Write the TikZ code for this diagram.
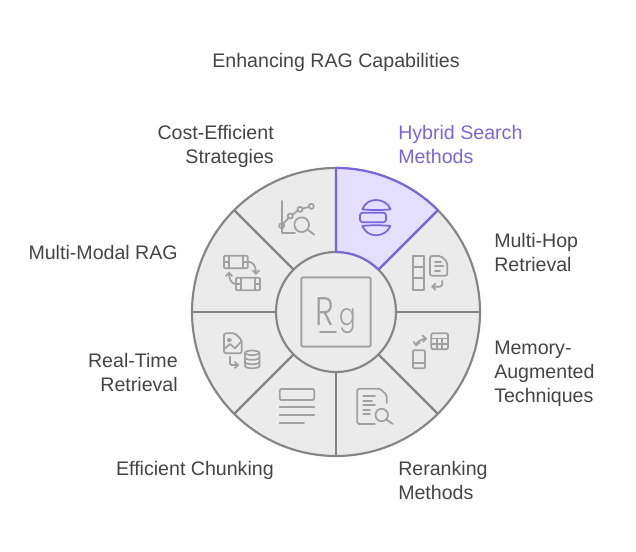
\documentclass[tikz,border=0pt]{standalone}
\usepackage{fontspec}
\setmainfont{Liberation Sans}
\newfontfamily\logofont[FakeStretch=0.8]{Poppins Light}
\usetikzlibrary{arrows.meta}
\definecolor{wheelfill}{HTML}{EBEBEB}
\definecolor{wheelline}{HTML}{858585}
\definecolor{iconline}{HTML}{A0A0A0}
\definecolor{accent}{HTML}{7A66DC}
\definecolor{accentfill}{HTML}{E4DEFF}
\definecolor{labeltext}{HTML}{444444}
\tikzset{
  x=0.75pt,y=-0.75pt,
  wheel/.style={draw=wheelline,line width=1.6pt,fill=wheelfill},
  spoke/.style={draw=wheelline,line width=1.6pt},
  icon/.style={draw=iconline,line width=1.3pt,line cap=round,line join=round},
  hicon/.style={draw=accent,line width=1.3pt,line cap=round,line join=round},
  lab/.style={inner sep=0pt,text=labeltext,font=\fontsize{14.7}{18}\selectfont},
  hlab/.style={lab,text=accent},
  tip/.style={-{Straight Barb[length=2.6pt,width=5pt]}}
}
\begin{document}
\begin{tikzpicture}
\useasboundingbox (0,0) rectangle (636,552);
% wheel
\draw[wheel] (336,312) circle[radius=108pt];
\draw[spoke] (336,168) -- (336,456);
\draw[spoke] (192,312) -- (480,312);
\draw[spoke] (234.18,210.18) -- (437.82,413.82);
\draw[spoke] (234.18,413.82) -- (437.82,210.18);
\draw[wheel] (336,312) circle[radius=45pt];
% highlighted wedge
\draw[draw=accent,line width=1.6pt,fill=accentfill,line join=round]
  (336,252) -- (336,168) arc[start angle=90,end angle=45,radius=108pt]
  -- (378.43,269.57) arc[start angle=45,end angle=90,radius=45pt] -- cycle;
% centre logo
\draw[icon,line width=1.5pt,rounded corners=1.5pt] (301.3,277.3) rectangle (370.7,346.7);
\node[inner sep=0pt,anchor=base west,text=iconline,font=\logofont\fontsize{30}{30}\selectfont] (logoR) at (315,326) {R};
\node[inner sep=0pt,anchor=base west,text=iconline,font=\logofont\fontsize{23}{30}\selectfont] (logoG) at (339.5,326) {g};
\draw[icon] (320,332.3) -- (336,332.3);
% cost-efficient icon
\draw[icon] (281.7,201) -- (281.7,232.7) -- (295,232.7);
\draw[icon] (283.3,223.6) -- (288.8,217.7) (292.4,214.8) -- (297.9,210.5) (302.4,208.6) -- (309,207);
\draw[icon] (281.7,225.7) circle[radius=1.9pt] (290.3,216) circle[radius=1.9pt] (300,209.3) circle[radius=1.9pt] (311.3,206.3) circle[radius=1.9pt];
\draw[icon] (301.7,224.7) circle[radius=5.5pt];
\draw[icon] (308,230) -- (314.3,234.7);
% multi-modal icon
\draw[icon,rounded corners=0.8pt] (224,255.7) rectangle (247.7,268.3);
\draw[icon] (229,255.7) -- (229,268.3) (242.7,255.7) -- (242.7,268.3) (224,262) -- (229,262) (242.7,262) -- (247.7,262);
\draw[icon,rounded corners=0.8pt] (236,277.7) rectangle (260,290.3);
\draw[icon] (241,277.7) -- (241,290.3) (255,277.7) -- (255,290.3) (236,284) -- (241,284) (255,284) -- (260,284);
\draw[icon,tip] (248,261.7) .. controls (253,261.7) and (256,266) .. (256,275);
\draw[icon,tip] (235.5,284) .. controls (231,284) and (229,278) .. (229,271.5);
% hybrid icon
\draw[hicon] (362.3,209.3) .. controls (365,203) and (370,200) .. (376,200) .. controls (382,200) and (388,203) .. (390.7,209.3) .. controls (382,210.3) and (370,210.3) .. (362.3,209.3) -- cycle;
\draw[hicon,rounded corners=2pt] (360,212.7) rectangle (386,222.3);
\draw[hicon] (362.3,226) .. controls (365,232) and (370,235.3) .. (376,235.3) .. controls (382,235.3) and (388,232) .. (390.4,226) .. controls (382,225) and (370,225) .. (362.3,226) -- cycle;
% multi-hop icon
\draw[icon] (413,255.7) rectangle (424,290);
\draw[icon] (413,267.3) -- (424,267.3) (413,278.3) -- (424,278.3);
\draw[icon,rounded corners=1.5pt] (430,256) -- (441,256) -- (447.3,262) -- (447.3,275.7) -- (430,275.7) -- cycle;
\draw[icon] (435,261.7) -- (441,261.7) (435,266) -- (443.3,266) (435,270.7) -- (440,270.7);
\draw[icon,tip,rounded corners=2pt] (442.3,280.7) -- (442.3,286.7) -- (431,286.7);
% memory icon
\draw[icon,rounded corners=1pt] (431.3,333.3) rectangle (448,349.3);
\draw[icon] (431.3,338.5) -- (448,338.5) (431.3,344) -- (448,344) (436.7,338.5) -- (436.7,349.3) (442.3,338.5) -- (442.3,349.3);
\draw[icon,rounded corners=0.8pt] (413,350.3) rectangle (425,368.3);
\draw[icon] (413,363.3) -- (425,363.3);
\draw[icon,tip] (421,340) .. controls (423,339) and (425,338.5) .. (427.3,338.3);
\draw[icon,tip] (421,340) .. controls (418.5,341) and (416.5,343) .. (416,346.5);
% reranking icon
\draw[icon,rounded corners=1.2pt] (386.7,403) -- (386.7,395) -- (380,388.7) -- (357.3,388.7) -- (357.3,424) -- (375,424);
\draw[icon] (363.3,396) -- (375,396) (363.3,400.7) -- (372,400.7) (363.3,405) -- (375,405) (363.3,409.7) -- (370,409.7) (363.3,414.3) -- (370,414.3);
\draw[icon] (381.7,415) circle[radius=4.7pt];
\draw[icon] (386.4,419.6) -- (392.7,424);
% chunking icon
\draw[icon,rounded corners=1pt] (279.7,389) rectangle (314.3,400);
\draw[icon] (279.7,407.3) -- (314.3,407.3) (279.7,415) -- (314.3,415) (279.7,422.7) -- (304,422.7);
% real-time icon
\draw[icon,rounded corners=1.5pt] (224,333.3) -- (235,333.3) -- (241.7,340) -- (241.7,353.3) -- (224,353.3) -- cycle;
\draw[icon] (229.3,340) circle[radius=1.2pt];
\draw[icon] (224,349.3) -- (230,344) -- (235,348.3) -- (241.7,341);
\draw[icon,tip,rounded corners=1pt] (230,356.7) -- (230,365) -- (239.3,365);
\draw[icon] (245,353) -- (245,366) arc[start angle=180,end angle=360,x radius=5.4pt,y radius=1.7pt] -- (259.4,353);
\draw[icon] (252.2,352.8) ellipse[x radius=5.4pt,y radius=1.7pt];
\draw[icon] (245,357.6) arc[start angle=180,end angle=360,x radius=5.4pt,y radius=1.7pt];
\draw[icon] (245,362) arc[start angle=180,end angle=360,x radius=5.4pt,y radius=1.7pt];
% labels
\node[lab] (title) at (336,62) {Enhancing RAG Capabilities};
\node[hlab,anchor=west,align=left] (hybrid) at (398,144) {Hybrid Search\\Methods};
\node[lab,anchor=west,align=left] (multihop) at (494,252) {Multi-Hop\\Retrieval};
\node[lab,anchor=west,align=left] (memory) at (494,374) {Memory-\\Augmented\\Techniques};
\node[lab,anchor=west,align=left] (rerank) at (398,480) {Reranking\\Methods};
\node[lab,anchor=east,align=right] (chunk) at (274,470) {Efficient Chunking};
\node[lab,anchor=east,align=right] (realtime) at (178,372) {Real-Time\\Retrieval};
\node[lab,anchor=east,align=right] (multimodal) at (178,252) {Multi-Modal RAG};
\node[lab,anchor=east,align=right] (cost) at (274,146) {Cost-Efficient\\Strategies};
\end{tikzpicture}
\end{document}
